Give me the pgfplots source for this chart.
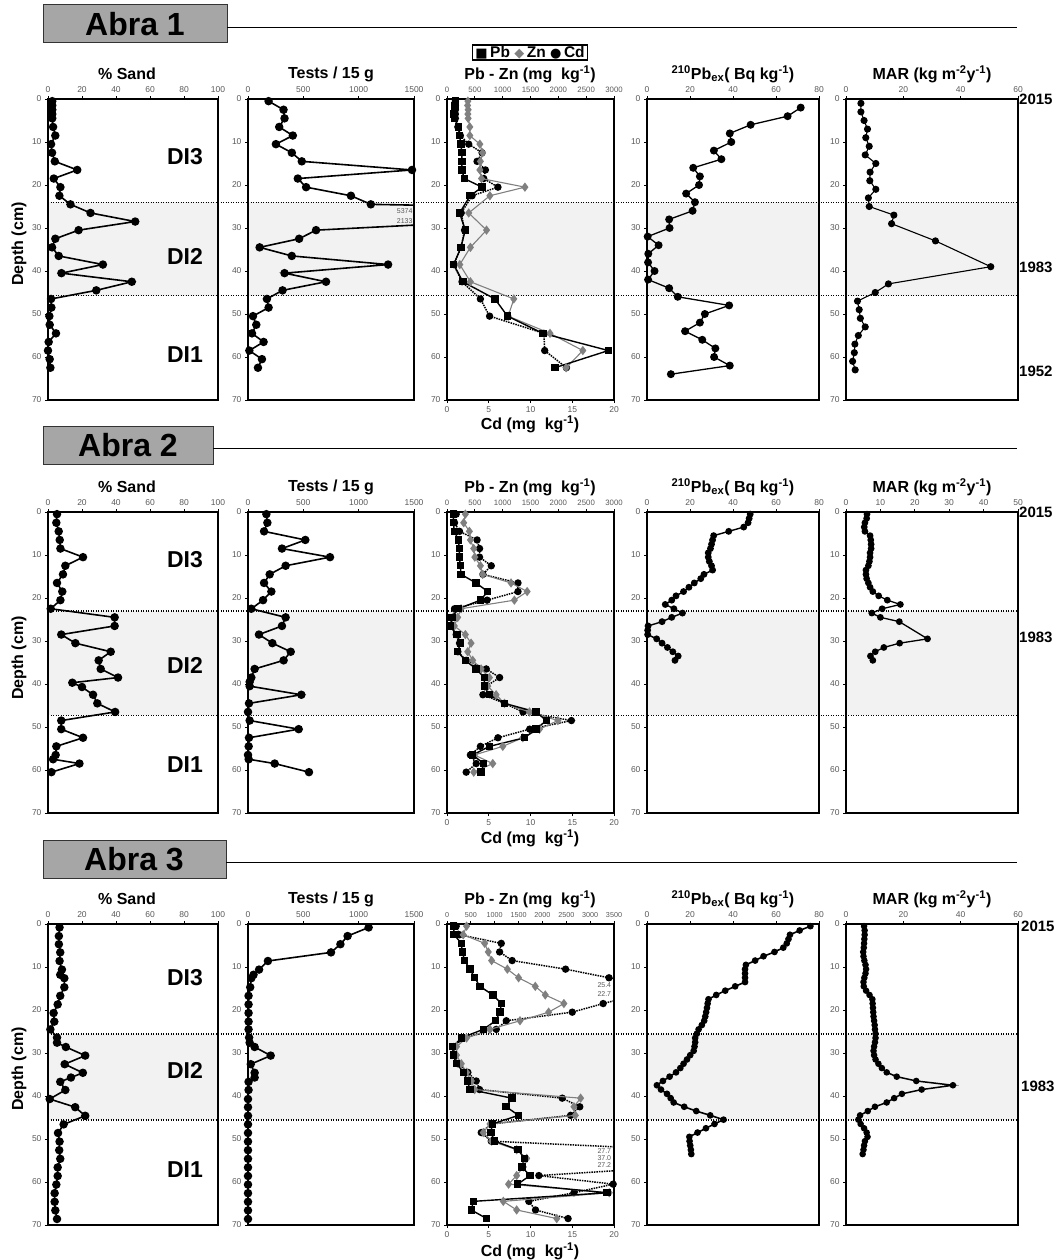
\documentclass[border=0pt]{standalone}
\usepackage{fontspec}
\setmainfont{Liberation Sans}
\newfontfamily\symf{DejaVu Sans}
\usepackage{pgfplots}
\pgfplotsset{compat=1.18}
\definecolor{bandgray}{HTML}{F2F2F2}
\definecolor{zngray}{HTML}{808080}
\definecolor{tickgray}{HTML}{595959}
\definecolor{headgray}{HTML}{A6A6A6}
\newcommand{\ttl}{\bfseries\fontsize{16}{18}\selectfont}
\newcommand{\dil}{\bfseries\fontsize{23}{25}\selectfont}
\newcommand{\yrl}{\bfseries\fontsize{15}{17}\selectfont}
\newcommand{\hdl}{\bfseries\fontsize{32}{34}\selectfont}
\newcommand{\offl}{\fontsize{7}{8}\selectfont}
\newcommand{\sym}[1]{{\symf\fontsize{13}{13}\selectfont #1}}
\newcommand{\bands}[2]{%
  \foreach \xl/\xr in {48/218,248/414,447/614,647/819,846/1018}
    {\fill[bandgray] (\xl pt,-#1pt) rectangle (\xr pt,-#2pt);}
  \draw[line width=1.2pt, dash pattern=on 1.2pt off 1.3pt] (48pt,-#1pt) -- (1018pt,-#1pt);
  \draw[line width=1.2pt, dash pattern=on 1.2pt off 1.3pt] (48pt,-#2pt) -- (1018pt,-#2pt);
}
\pgfplotsset{
  panel/.style={
    scale only axis, height=301pt, anchor=north west,
    ymin=0, ymax=70, y dir=reverse, ytick={0,10,...,70},
    axis line style={line width=1.5pt},
    tick align=outside,
    xtick pos=right, xticklabel pos=right, ytick pos=left,
    major tick length=3pt,
    tick style={black, line width=0.8pt},
    tick label style={font=\fontsize{8.5}{9}\selectfont, text=tickgray},
    /pgf/number format/assume math mode=true,
    /pgf/number format/1000 sep={},
    scaled ticks=false,
  },
  panelcd/.style={panel, xtick pos=left, xticklabel pos=left, ytick=\empty},
  sandline/.style={black, line width=1.6pt, mark=*, mark size=3.4pt},
  thinline/.style={black, line width=1.1pt, mark=*, mark size=3pt},
  pbline/.style={black, line width=1.4pt, mark=square*, mark size=3pt},
  znline/.style={zngray, line width=1.1pt, mark=diamond*, mark size=3.8pt},
  cdline/.style={black, line width=1.5pt, densely dotted, mark=*, mark size=2.9pt, mark options={solid}},
}
\begin{document}
\begin{tikzpicture}
\path[use as bounding box] (0pt,0pt) rectangle (1055pt,-1260pt);

% ---------------- headers ----------------
\filldraw[fill=headgray, draw=black!80, line width=1pt] (43pt,-5pt) rectangle (227pt,-43pt);
\node[font=\hdl] at (135pt,-24pt) {Abra 1};
\draw[line width=0.9pt] (227pt,-27pt) -- (1017pt,-27pt);
\filldraw[fill=headgray, draw=black!80, line width=1pt] (43pt,-426pt) rectangle (213pt,-464pt);
\node[font=\hdl] at (128pt,-445pt) {Abra 2};
\draw[line width=0.9pt] (213pt,-448pt) -- (1017pt,-448pt);
\filldraw[fill=headgray, draw=black!80, line width=1pt] (43pt,-840pt) rectangle (226pt,-878pt);
\node[font=\hdl] at (134pt,-859pt) {Abra 3};
\draw[line width=0.9pt] (226pt,-862pt) -- (1017pt,-862pt);

% legend of the Pb / Zn / Cd panels
\node[draw=black, line width=1.2pt, inner xsep=3pt, inner ysep=1pt,
  font=\bfseries\fontsize{15.5}{16}\selectfont] at (530pt,-52.5pt)
  {\sym{■}\,Pb\ \textcolor{zngray}{\sym{◆}}\,Zn\ \sym{●}\,Cd};

% ---------------- bands ----------------
\bands{202.2}{295.5}
\bands{610.9}{715.4}
\bands{1034}{1120}

% ---------------- titles ----------------
\foreach \ty in {74,487,899}{
  \node[font=\ttl] at (127pt,-\ty pt) {\% Sand};
  \node[font=\ttl] at (331pt,-\ty pt) {Tests / 15 g};
  \node[font=\ttl] at (530pt,-\ty pt) {Pb - Zn (mg\ \ kg\textsuperscript{-1})};
  \node[font=\ttl] at (733pt,-\ty pt) {\textsuperscript{210}Pb\textsubscript{ex}( Bq kg\textsuperscript{-1})};
  \node[font=\ttl] at (932pt,-\ty pt) {MAR (kg m\textsuperscript{-2}y\textsuperscript{-1})};
}
\node[font=\ttl] at (530pt,-424pt) {Cd (mg\ \ kg\textsuperscript{-1})};
\node[font=\ttl] at (530pt,-838pt) {Cd (mg\ \ kg\textsuperscript{-1})};
\node[font=\ttl] at (530pt,-1251pt) {Cd (mg\ \ kg\textsuperscript{-1})};
\node[font=\ttl, rotate=90] at (19pt,-244pt) {Depth (cm)};
\node[font=\ttl, rotate=90] at (19pt,-658pt) {Depth (cm)};
\node[font=\ttl, rotate=90] at (19pt,-1069pt) {Depth (cm)};
\node[font=\dil] at (185pt,-157pt) {DI3};
\node[font=\dil] at (185pt,-256pt) {DI2};
\node[font=\dil] at (185pt,-355pt) {DI1};
\node[font=\dil] at (185pt,-560pt) {DI3};
\node[font=\dil] at (185pt,-665pt) {DI2};
\node[font=\dil] at (185pt,-765pt) {DI1};
\node[font=\dil] at (185pt,-978pt) {DI3};
\node[font=\dil] at (185pt,-1070pt) {DI2};
\node[font=\dil] at (185pt,-1170pt) {DI1};
\node[font=\yrl, anchor=west, inner sep=0pt] at (1019pt,-99pt) {2015};
\node[font=\yrl, anchor=west, inner sep=0pt] at (1019pt,-267pt) {1983};
\node[font=\yrl, anchor=west, inner sep=0pt] at (1019pt,-371pt) {1952};
\node[font=\yrl, anchor=west, inner sep=0pt] at (1019pt,-512pt) {2015};
\node[font=\yrl, anchor=west, inner sep=0pt] at (1019pt,-637pt) {1983};
\node[font=\yrl, anchor=west, inner sep=0pt] at (1021pt,-926pt) {2015};
\node[font=\yrl, anchor=west, inner sep=0pt] at (1021pt,-1086pt) {1983};

% ================= ROW 1 : Abra 1 =================
\begin{axis}[panel, at={(48pt,-99pt)}, width=170pt, xmin=0, xmax=100, xtick={0,20,...,100}]
\addplot[sandline] coordinates {(2.5,0.5)(2.5,1.5)(2.5,2.5)(2.5,3.5)(2.5,4.5)(3,6.5)(4.3,8.5)(1.8,10.5)(2.4,12.5)(4,14.5)(17.2,16.5)(3.4,18.5)(7.3,20.5)(6.7,22.5)(13.2,24.5)(25,26.5)(51.3,28.5)(18,30.5)(4.3,32.5)(2.4,34.5)(6.3,36.5)(32.3,38.5)(7.9,40.5)(49.3,42.5)(28.4,44.5)(1.8,46.5)(2,48.5)(0.8,50.5)(1,52.5)(4.7,54.5)(0.4,56.5)(0,58.5)(1,60.5)(1.4,62.5)};
\end{axis}
\begin{axis}[panel, at={(248pt,-99pt)}, width=166pt, xmin=0, xmax=1500, xtick={0,500,1000,1500}]
\addplot[sandline] coordinates {(186,0.5)(321,2.5)(330,4.5)(282,6.5)(405,8.5)(252,10.5)(396,12.5)(486,14.5)(1482,16.5)(450,18.5)(525,20.5)(930,22.5)(1110,24.5)(5374,26.5)(2133,28.5)(615,30.5)(462,32.5)(105,34.5)(396,36.5)(1266,38.5)(330,40.5)(705,42.5)(312,44.5)(171,46.5)(186,48.5)(45,50.5)(75,52.5)(36,54.5)(141,56.5)(12,58.5)(126,60.5)(90,62.5)};
\node[font=\offl, text=tickgray, anchor=east, inner sep=1pt] at (axis cs:1497,26) {5374};
\node[font=\offl, text=tickgray, anchor=east, inner sep=1pt] at (axis cs:1497,28.3) {2133};
\end{axis}
\begin{axis}[panelcd, at={(447pt,-99pt)}, width=167pt, xmin=0, xmax=20, xtick={0,5,...,20}]
\addplot[cdline] coordinates {(1,0.5)(1,1.5)(1,2.5)(1,3.5)(1,4.5)(1.3,6.5)(1.6,8.5)(2.6,10.5)(4.2,12.5)(3.6,14.5)(4.6,16.5)(4.4,18.5)(6.1,20.5)(3,22.5)(1.7,26.5)(2.1,30.5)(1.7,34.5)(0.8,38.5)(1.8,42.5)(4,46.5)(5.1,50.5)(11.6,54.5)(11.7,58.5)(14.3,62.5)};
\end{axis}
\begin{axis}[panel, at={(447pt,-99pt)}, width=167pt, xmin=0, xmax=3000, xtick={0,500,...,3000},
  xticklabel style={font=\fontsize{7.8}{8}\selectfont}]
\addplot[znline] coordinates {(375,0.5)(370,1.5)(380,2.5)(375,3.5)(380,4.5)(410,6.5)(410,8.5)(590,10.5)(640,12.5)(600,14.5)(590,16.5)(620,18.5)(1400,20.5)(770,22.5)(390,26.5)(710,30.5)(420,34.5)(230,38.5)(420,42.5)(1200,46.5)(1100,50.5)(1850,54.5)(2440,58.5)(2140,62.5)};
\addplot[pbline] coordinates {(150,0.5)(140,1.5)(130,2.5)(125,3.5)(135,4.5)(208,6.5)(226,8.5)(250,10.5)(267,12.5)(267,14.5)(267,16.5)(309,18.5)(630,20.5)(416,22.5)(226,26.5)(327,30.5)(250,34.5)(119,38.5)(285,42.5)(861,46.5)(1087,50.5)(1723,54.5)(2899,58.5)(1937,62.5)};
\end{axis}
\begin{axis}[panel, at={(647pt,-99pt)}, width=172pt, xmin=0, xmax=80, xtick={0,20,...,80}]
\addplot[black, line width=1.3pt, mark=*, mark size=3.3pt] coordinates {(71.5,2)(65.4,4)(48.2,6)(38.5,8)(39.2,10)(31.1,12)(34.6,14)(21.5,16)(24.6,18)(24.2,20)(18.2,22)(22.3,24)(21.2,26)(10.3,28)(10.5,30)(0.3,32)(5.4,34)(0.6,36)(0.5,38)(3.5,40)(0.5,42)(10.3,44)(14.3,46)(38.2,48)(26.9,50)(24.6,52)(17.7,54)(25.7,56)(31.8,58)(31.2,60)(38.5,62)(11.1,64)};
\end{axis}
\begin{axis}[panel, at={(846pt,-99pt)}, width=172pt, xmin=0, xmax=60, xtick={0,20,...,60}]
\addplot[thinline] coordinates {(5.2,1)(5.2,3)(6.3,5)(7.5,7)(6.9,9)(8.1,11)(6.7,13)(10.4,15)(8.4,17)(8.3,19)(10.4,21)(7.8,23)(8.1,25)(16.7,27)(15.9,29)(31.2,33)(50.5,39)(14.8,43)(10.2,45)(4,47)(4.6,49)(5,51)(6.7,53)(4.3,55)(3.1,57)(2.9,59)(2.3,61)(3.2,63)};
\end{axis}

% ================= ROW 2 : Abra 2 =================
\begin{axis}[panel, at={(48pt,-512pt)}, width=170pt, xmin=0, xmax=100, xtick={0,20,...,100}]
\addplot[sandline] coordinates {(5.3,0.5)(4.9,2.5)(6.3,4.5)(6.9,6.5)(7.3,8.5)(20.6,10.5)(10.2,12.5)(8.8,14.5)(5.3,16.5)(8.4,18.5)(7.3,20.5)(1.6,22.5)(39.2,24.5)(39.2,26.5)(7.8,28.5)(16.1,30.5)(36.9,32.5)(29.8,34.5)(31,36.5)(41.2,38.5)(14.3,39.7)(20,40.7)(26.5,42.5)(29,44.5)(39.5,46.5)(7.8,48.5)(7.8,50.5)(20.6,52.5)(4.9,54.5)(4.5,56.5)(3,57.5)(18.5,58.5)(2,60.5)};
\end{axis}
\begin{axis}[panel, at={(248pt,-512pt)}, width=166pt, xmin=0, xmax=1500, xtick={0,500,1000,1500}]
\addplot[sandline] coordinates {(166,0.5)(175,2.5)(145,4.5)(518,6.5)(307,8.5)(741,10.5)(340,12.5)(196,14.5)(145,16.5)(211,18.5)(136,20.5)(30,22.5)(340,24.5)(307,26.5)(99,28.5)(220,30.5)(386,32.5)(322,34.5)(60,36.5)(30,38.5)(15,39.5)(15,40.5)(482,42.5)(9,44.5)(0,46.5)(15,48.5)(458,50.5)(9,52.5)(6,54.5)(0,56.5)(6,57.5)(241,58.5)(551,60.5)};
\end{axis}
\begin{axis}[panelcd, at={(447pt,-512pt)}, width=167pt, xmin=0, xmax=20, xtick={0,5,...,20}]
\addplot[cdline] coordinates {(1.1,0.5)(0.9,2.5)(1.5,4.5)(3.6,6.5)(3.9,8.5)(3.9,10.5)(5.3,12.5)(4.3,14.5)(8.5,16.5)(8.5,18.5)(4.8,20.5)(0.9,22.5)(0.7,24.5)(0.4,26.5)(1.1,28.5)(1.5,30.5)(1.3,32.5)(2.3,34.5)(4.7,36.5)(6.3,38.5)(4.7,40.5)(4.3,42.5)(6.9,44.5)(9.1,46.5)(14.9,48.5)(9.9,50.5)(6.1,52.5)(4.0,54.5)(2.8,56.5)(3.5,58.5)(2.3,60.5)};
\end{axis}
\begin{axis}[panel, at={(447pt,-512pt)}, width=167pt, xmin=0, xmax=3000, xtick={0,500,...,3000},
  xticklabel style={font=\fontsize{7.8}{8}\selectfont}]
\addplot[znline] coordinates {(330,0.5)(300,2.5)(402,4.5)(420,6.5)(480,8.5)(500,10.5)(600,12.5)(640,14.5)(1150,16.5)(1440,18.5)(1210,20.5)(252,22.5)(192,24.5)(132,26.5)(330,28.5)(432,30.5)(372,32.5)(462,34.5)(612,36.5)(762,38.5)(732,40.5)(882,42.5)(1032,44.5)(1482,46.5)(1992,48.5)(1662,50.5)(1362,52.5)(1002,54.5)(492,56.5)(822,58.5)(480,60.5)};
\addplot[pbline] coordinates {(114,0.5)(114,2.5)(132,4.5)(204,6.5)(222,8.5)(222,10.5)(240,12.5)(252,14.5)(522,16.5)(732,18.5)(600,20.5)(204,22.5)(90,24.5)(60,26.5)(180,28.5)(240,30.5)(192,32.5)(330,34.5)(522,36.5)(672,38.5)(672,40.5)(762,42.5)(1032,44.5)(1602,46.5)(1782,48.5)(1602,50.5)(1392,52.5)(762,54.5)(462,56.5)(660,58.5)(612,60.5)};
\end{axis}
\begin{axis}[panel, at={(647pt,-512pt)}, width=172pt, xmin=0, xmax=80, xtick={0,20,...,80}]
\addplot[black, line width=1.4pt, mark=*, mark size=2.7pt] coordinates {(48,0.5)(47.5,1.5)(47,2.5)(45,3.5)(38,4.5)(31,5.5)(30.5,6.5)(30,7.5)(29.5,8.5)(28.5,9.5)(28.5,10.5)(29,11.5)(30,12.5)(30.5,13.5)(26.5,14.5)(25,15.5)(22,16.5)(19.5,17.5)(17,18.5)(13.5,19.5)(11.5,20.5)(8.5,21.5)(12.5,22.5)(16.5,23.5)(11.5,24.5)(7,25.5)(0.5,26.5)(0.3,27.5)(0.3,28.5)(4.5,29.5)(7,30.5)(9.5,31.5)(12,32.5)(14.5,33.5)(13,34.5)};
\end{axis}
\begin{axis}[panel, at={(846pt,-512pt)}, width=172pt, xmin=0, xmax=50, xtick={0,10,...,50}]
\addplot[black, line width=1.3pt, mark=*, mark size=2.7pt] coordinates {(6.1,0.5)(6.0,1.5)(5.5,2.5)(5.3,3.5)(5.5,4.5)(7,5.5)(7.2,6.5)(7.3,7.5)(7.3,8.5)(7,9.5)(7,10.5)(6.8,11.5)(6.5,12.5)(5.8,13.5)(5.8,14.5)(6,15.5)(6.5,16.5)(7,17.5)(7.8,18.5)(9.5,19.5)(12,20.5)(15.8,21.5)(10.5,22.5)(7.5,23.5)(10,24.5)(15.5,25.5)(23.7,29.5)(15.6,30.5)(11,31.5)(8.5,32.5)(7.1,33.5)(7.8,34.5)};
\end{axis}

% ================= ROW 3 : Abra 3 =================
\begin{axis}[panel, at={(48pt,-924pt)}, width=170pt, xmin=0, xmax=100, xtick={0,20,...,100}]
\addplot[sandline] coordinates {(6.8,0.8)(6.4,2.8)(6.4,4.7)(7.2,6.6)(6.8,8.6)(8.2,10.6)(7.2,11.8)(9.6,12.6)(9.6,14.7)(7.2,16.7)(5.7,18.7)(3.3,20.7)(3.7,22.7)(1.4,24.5)(5.3,26.4)(5.3,27.6)(10.5,28.6)(21.9,30.6)(9.8,32.6)(20.5,34.6)(13.5,35.7)(7.2,36.7)(10.2,38.6)(1,40.7)(16,42.6)(21.9,44.6)(9.2,46.6)(5.9,48.6)(6.8,50.6)(6.6,52.6)(7.2,54.6)(5.7,56.6)(5.7,58.6)(4.9,60.6)(3.9,62.6)(3.9,64.6)(4.3,66.6)(5.3,68.6)};
\end{axis}
\begin{axis}[panel, at={(248pt,-924pt)}, width=166pt, xmin=0, xmax=1500, xtick={0,500,1000,1500}]
\addplot[sandline] coordinates {(1090,0.8)(900,2.8)(835,4.7)(750,6.6)(180,8.6)(100,10.6)(50,11.8)(30,12.6)(20,14.7)(5,16.7)(5,18.7)(5,20.7)(5,22.7)(5,24.5)(10,26.4)(15,27.6)(60,28.6)(205,30.6)(25,32.6)(60,34.6)(60,35.7)(5,36.7)(5,38.6)(0,40.7)(0,42.6)(0,44.6)(0,46.6)(0,48.6)(0,50.6)(0,52.6)(0,54.6)(0,56.6)(0,58.6)(0,60.6)(0,62.6)(0,64.6)(0,66.6)(0,68.6)};
\end{axis}
\begin{axis}[panelcd, at={(447pt,-924pt)}, width=167pt, xmin=0, xmax=20, xtick={0,5,...,20}]
\addplot[cdline] coordinates {(1.1,0.5)(1.5,2.5)(6.5,4.5)(6.3,6.5)(7.8,8.5)(14.2,10.5)(19.4,12.5)(25.4,14.5)(22.7,16.5)(18.7,18.5)(15,20.5)(7.1,22.5)(5.9,24.5)(2,26.5)(0.8,28.5)(0.9,30.5)(1.3,32.5)(2.5,34.5)(3.5,36.5)(3.9,38.5)(13.8,40.5)(15.9,42.5)(14.8,44.5)(5.3,46.5)(4.1,48.5)(5.3,50.5)(27.7,52.5)(37.0,54.5)(27.2,56.5)(11,58.5)(19.9,60.5)(15.2,62.5)(9.8,64.5)(10.6,66.5)(14.5,68.5)};
\node[font=\offl, text=tickgray, anchor=east, inner sep=1pt] at (axis cs:19.8,14.2) {25.4};
\node[font=\offl, text=tickgray, anchor=east, inner sep=1pt] at (axis cs:19.8,16.4) {22.7};
\node[font=\offl, text=tickgray, anchor=east, inner sep=1pt] at (axis cs:19.8,52.8) {27.7};
\node[font=\offl, text=tickgray, anchor=east, inner sep=1pt] at (axis cs:19.8,54.5) {37.0};
\node[font=\offl, text=tickgray, anchor=east, inner sep=1pt] at (axis cs:19.8,56.1) {27.2};
\end{axis}
\begin{axis}[panel, at={(447pt,-924pt)}, width=167pt, xmin=0, xmax=3500, xtick={0,500,...,3500},
  xticklabel style={font=\fontsize{7.2}{8}\selectfont}]
\addplot[znline] coordinates {(410,0.5)(340,2.5)(790,4.5)(865,6.5)(935,8.5)(1265,10.5)(1500,12.5)(1850,14.5)(2060,16.5)(2450,18.5)(2130,20.5)(1530,22.5)(900,24.5)(410,26.5)(200,28.5)(200,30.5)(300,32.5)(410,34.5)(510,36.5)(580,38.5)(2800,40.5)(2660,42.5)(2690,44.5)(900,46.5)(760,48.5)(935,50.5)(1460,52.5)(1670,54.5)(1600,56.5)(1460,58.5)(1290,60.5)(3400,62.5)(1180,64.5)(1460,66.5)(2300,68.5)};
\addplot[pbline] coordinates {(140,0.5)(150,2.5)(300,4.5)(320,6.5)(370,8.5)(480,10.5)(580,12.5)(690,14.5)(960,16.5)(1140,18.5)(1110,20.5)(1020,22.5)(760,24.5)(300,26.5)(120,28.5)(130,30.5)(200,32.5)(350,34.5)(430,36.5)(480,38.5)(1360,40.5)(1240,42.5)(1500,44.5)(950,46.5)(920,48.5)(1000,50.5)(1490,52.5)(1620,54.5)(1570,56.5)(1740,58.5)(1480,60.5)(3350,62.5)(550,64.5)(510,66.5)(830,68.5)};
\end{axis}
\begin{axis}[panel, at={(647pt,-924pt)}, width=172pt, xmin=0, xmax=80, xtick={0,20,...,80}]
\addplot[black, line width=1.6pt, mark=*, mark size=2.5pt] coordinates {(76,0.5)(71,1.5)(66.5,2.5)(65.8,3.5)(65,4.5)(63.4,5.5)(59.3,6.5)(54.2,7.5)(50.3,8.5)(46,9.5)(45.6,10.5)(45.6,11.5)(45.6,12.5)(45.6,13.5)(41,14.5)(36.4,15.5)(32.2,16.5)(28.6,17.5)(28.2,18.5)(27.9,19.5)(27.5,20.5)(27.1,21.5)(26.6,22.5)(25.5,23.5)(24,24.5)(23.2,25.5)(22.4,26.5)(22.4,27.5)(22.1,28.5)(21.7,29.5)(20.1,30.5)(18.6,31.5)(17,32.5)(15.5,33.5)(13.5,34.5)(10.5,35.5)(7.4,36.5)(4.6,37.5)(6.5,38.5)(9.3,39.5)(11,40.5)(12.4,41.5)(17.3,42.5)(22.9,43.5)(29.4,44.5)(35.6,45.5)(31.4,46.5)(27.4,47.5)(23.5,48.5)(19.7,49.5)(19.8,50.5)(20.1,51.5)(20.4,52.5)(20.6,53.5)};
\end{axis}
\begin{axis}[panel, at={(846pt,-924pt)}, width=172pt, xmin=0, xmax=60, xtick={0,20,...,60}]
\addplot[black, line width=1.5pt, mark=*, mark size=2.5pt] coordinates {(6.3,0.5)(6.5,1.5)(6.5,2.5)(6.4,3.5)(6.3,4.5)(6.2,5.5)(6.0,6.5)(6.1,7.5)(6.4,8.5)(6.8,9.5)(7.0,10.5)(6.8,11.5)(6.4,12.5)(6.1,13.5)(6.2,14.5)(7.0,15.5)(8.2,16.5)(9.2,17.5)(9.3,18.5)(9.4,19.5)(9.5,20.5)(9.6,21.5)(9.8,22.5)(10.0,23.5)(10.1,24.5)(10.3,25.5)(10.3,26.5)(10.1,27.5)(9.8,28.5)(9.6,29.5)(9.8,30.5)(10.3,31.5)(11.3,32.5)(12.5,33.5)(14.2,34.5)(17.7,35.5)(24.5,36.5)(37.3,37.5)(26.4,38.5)(19.5,39.5)(16.8,40.5)(14.2,41.5)(10.1,42.5)(7.6,43.5)(4.9,44.5)(4.3,45.5)(5.1,46.5)(6.3,47.5)(7.2,48.5)(7.5,49.5)(6.6,50.5)(6.3,51.5)(6.1,52.5)(5.8,53.5)};
\end{axis}
\end{tikzpicture}
\end{document}
